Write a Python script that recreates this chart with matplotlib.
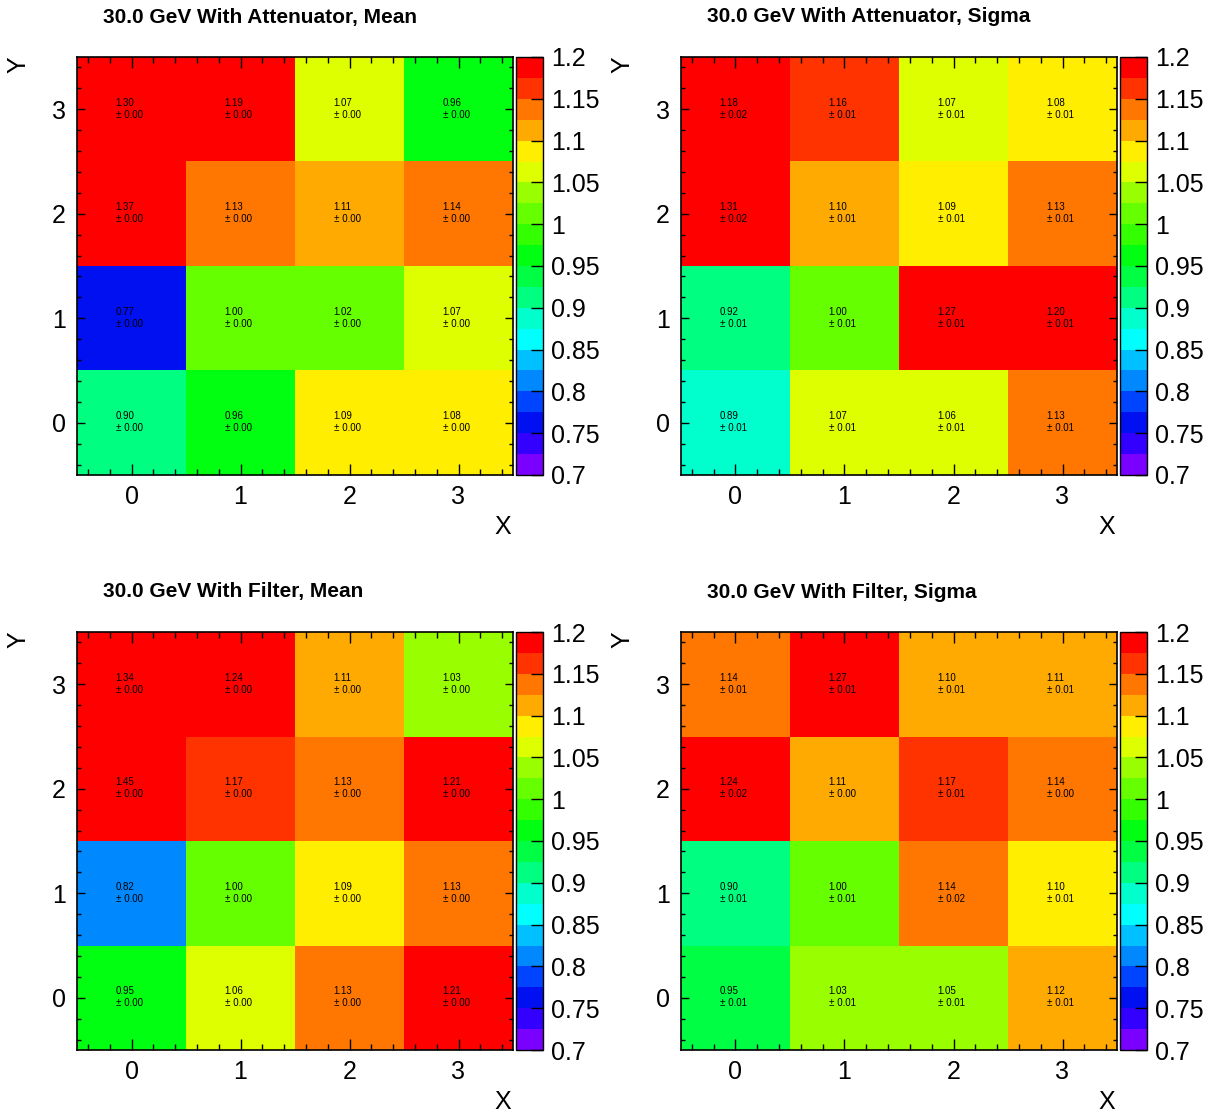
import numpy as np
import matplotlib
matplotlib.use("Agg")
import matplotlib.pyplot as plt
from matplotlib.colors import ListedColormap, BoundaryNorm
from matplotlib.ticker import MultipleLocator

plt.rcParams['font.family'] = ['Liberation Sans', 'DejaVu Sans']

# --- datos (filas = Y de 0 a 3, columnas = X de 0 a 3) ---
x_bins = [0, 1, 2, 3]
y_bins = [0, 1, 2, 3]

titles = ["30.0 GeV With Attenuator, Mean",
          "30.0 GeV With Attenuator, Sigma",
          "30.0 GeV With Filter, Mean",
          "30.0 GeV With Filter, Sigma"]

att_mean = [[0.90, 0.96, 1.09, 1.08],
            [0.77, 1.00, 1.02, 1.07],
            [1.37, 1.13, 1.11, 1.14],
            [1.30, 1.19, 1.07, 0.96]]
att_mean_err = [[0.00, 0.00, 0.00, 0.00],
                [0.00, 0.00, 0.00, 0.00],
                [0.00, 0.00, 0.00, 0.00],
                [0.00, 0.00, 0.00, 0.00]]

att_sigma = [[0.89, 1.07, 1.06, 1.13],
             [0.92, 1.00, 1.27, 1.20],
             [1.31, 1.10, 1.09, 1.13],
             [1.18, 1.16, 1.07, 1.08]]
att_sigma_err = [[0.01, 0.01, 0.01, 0.01],
                 [0.01, 0.01, 0.01, 0.01],
                 [0.02, 0.01, 0.01, 0.01],
                 [0.02, 0.01, 0.01, 0.01]]

filt_mean = [[0.952, 1.06, 1.13, 1.21],
             [0.82, 1.00, 1.09, 1.13],
             [1.45, 1.17, 1.13, 1.21],
             [1.34, 1.24, 1.11, 1.03]]
filt_mean_err = [[0.00, 0.00, 0.00, 0.00],
                 [0.00, 0.00, 0.00, 0.00],
                 [0.00, 0.00, 0.00, 0.00],
                 [0.00, 0.00, 0.00, 0.00]]

filt_sigma = [[0.948, 1.03, 1.048, 1.12],
              [0.90, 1.00, 1.14, 1.098],
              [1.24, 1.11, 1.17, 1.14],
              [1.14, 1.27, 1.102, 1.11]]
filt_sigma_err = [[0.01, 0.01, 0.01, 0.01],
                  [0.01, 0.01, 0.02, 0.01],
                  [0.02, 0.00, 0.01, 0.00],
                  [0.01, 0.01, 0.01, 0.01]]

panels = [(att_mean, att_mean_err), (att_sigma, att_sigma_err),
          (filt_mean, filt_mean_err), (filt_sigma, filt_sigma_err)]

# paleta estilo ROOT (20 niveles entre 0.7 y 1.2)
palette = ['#7a00ff', '#3300ff', '#0010f0', '#0044ff', '#0088ff',
           '#00c0ff', '#00ffff', '#00ffcc', '#00ff80', '#00ff44',
           '#00ff10', '#33ff00', '#66ff00', '#99ff00', '#ddff00',
           '#ffee00', '#ffaa00', '#ff7700', '#ff3300', '#ff0000']
levels = np.linspace(0.7, 1.2, 21)
cmap = ListedColormap(palette)
cmap.set_over('#ff0000')
cmap.set_under('#7a00ff')
norm = BoundaryNorm(levels, cmap.N)

W, H = 1219, 1117
fig = plt.figure(figsize=(W / 100, H / 100), dpi=100)

# posiciones en pixeles: (izq, arriba) de cada panel
origins = [(77, 57), (681, 57), (77, 632), (681, 632)]
pw, ph = 436, 418
edges = np.arange(-0.5, 4.0, 1.0)

for (left, top), title, (vals, errs) in zip(origins, titles, panels):
    ax = fig.add_axes([left / W, 1 - (top + ph) / H, pw / W, ph / H])
    z = np.array(vals)
    mesh = ax.pcolormesh(edges, edges, z, cmap=cmap, norm=norm)
    for j, yv in enumerate(y_bins):
        for i, xv in enumerate(x_bins):
            ax.text(xv - 0.145, yv + 0.064, f"{vals[j][i]:.2f}", fontsize=7,
                    ha='left', va='center')
            ax.text(xv - 0.145, yv - 0.052, f"\u00b1 {errs[j][i]:.2f}", fontsize=7,
                    ha='left', va='center')
    ax.set_xlim(-0.5, 3.5)
    ax.set_ylim(-0.5, 3.5)
    ax.set_xticks(x_bins)
    ax.set_yticks(y_bins)
    ax.xaxis.set_minor_locator(MultipleLocator(0.2))
    ax.yaxis.set_minor_locator(MultipleLocator(0.2))
    ax.tick_params(axis='both', which='both', direction='in', top=True, right=True,
                   labelsize=18, width=1)
    ax.tick_params(axis='x', which='major', length=8, pad=7)
    ax.tick_params(axis='x', which='minor', length=4)
    ax.tick_params(axis='y', which='major', length=6, pad=8)
    ax.tick_params(axis='y', which='minor', length=3)
    for s in ax.spines.values():
        s.set_linewidth(1.2)

    fig.text((left + 26) / W, 1 - (top - 40) / H, title, fontsize=15,
             fontweight='bold', ha='left', va='center')
    fig.text((left + 426) / W, 1 - (top + 470) / H, "X", fontsize=18,
             ha='center', va='center')
    fig.text((left - 59) / W, 1 - (top + 8) / H, "Y", fontsize=18,
             ha='center', va='center', rotation=90)

    cax = fig.add_axes([(left + pw + 3) / W, 1 - (top + ph) / H, 27 / W, ph / H])
    cb = fig.colorbar(mesh, cax=cax, ticks=np.arange(0.7, 1.2001, 0.05),
                      format='%g')
    cb.outline.set_linewidth(1.0)
    cax.tick_params(axis='y', direction='in', length=9, width=1, labelsize=18,
                    pad=6, right=True, left=False)
    cax.minorticks_off()

fig.savefig("out.png", dpi=100)
